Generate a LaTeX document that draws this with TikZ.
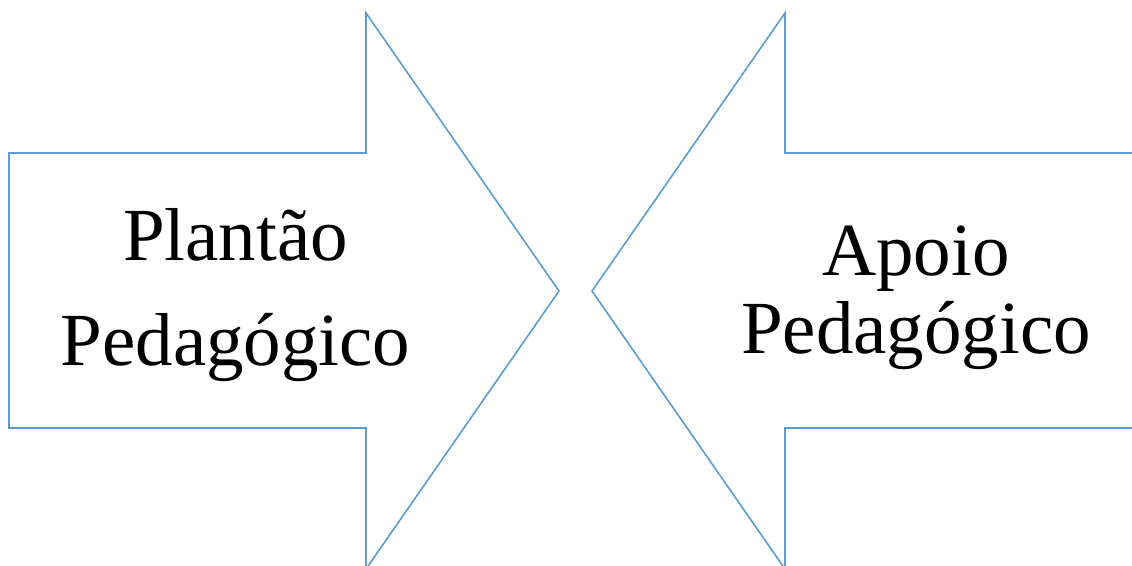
\documentclass[tikz,border=0pt]{standalone}
\usepackage{fontspec}
\setmainfont{Liberation Serif}
\definecolor{arrowblue}{HTML}{5B9BD5}
\begin{document}
\begin{tikzpicture}[x=1pt,y=-1pt,
  arrowshape/.style={draw=arrowblue,line width=1.6pt,line join=miter},
  label/.style={font=\fontsize{75}{90}\selectfont,anchor=base,inner sep=0pt}]
\useasboundingbox (0,0) rectangle (1132,565);
\clip (0,0) rectangle (1132,565);
\draw[arrowshape] (9,153) -- (366,153) -- (366,13) -- (559,291) -- (366,569) -- (366,428) -- (9,428) -- cycle;
\draw[arrowshape] (1140,153) -- (785,153) -- (785,13) -- (592,291) -- (785,569) -- (785,428) -- (1140,428);
\node[label] (l1) at (235.5,260) {Plantão};
\node[label] (l2) at (235.5,365) {Pedagógico};
\node[label] (r1) at (916,275) {Apoio};
\node[label] (r2) at (916,353) {Pedagógico};
\end{tikzpicture}
\end{document}
